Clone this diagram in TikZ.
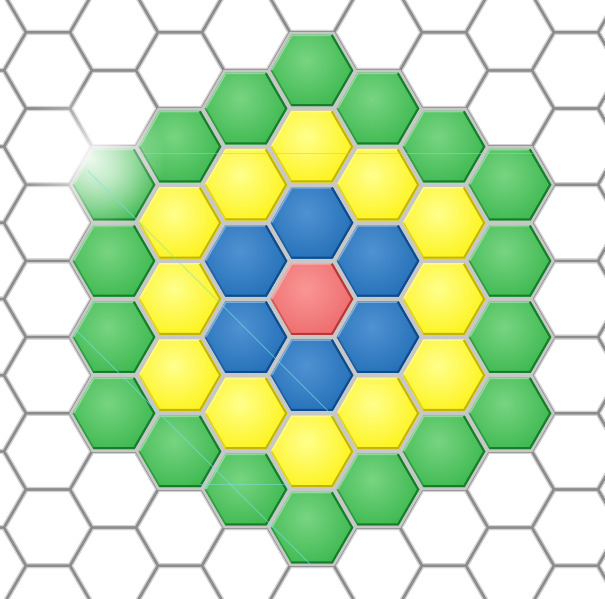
\documentclass[tikz,border=0pt]{standalone}
\usetikzlibrary{fadings}

% soft white glow used for the flare
\tikzfading[name=glow, inner color=transparent!0, outer color=transparent!100]

% flat-topped hexagon: centre (#1,#2), circumradius #3
\newcommand{\hexat}[3]{({#1+#3},{#2}) -- ({#1+0.5*#3},{#2+0.866025*#3}) -- ({#1-0.5*#3},{#2+0.866025*#3}) -- ({#1-#3},{#2}) -- ({#1-0.5*#3},{#2-0.866025*#3}) -- ({#1+0.5*#3},{#2-0.866025*#3}) -- cycle}

\definecolor{redbase}{RGB}{234,98,98}
\definecolor{redhi}{RGB}{250,150,150}
\definecolor{reddark}{RGB}{185,55,55}
\definecolor{bluebase}{RGB}{26,104,178}
\definecolor{bluehi}{RGB}{80,146,210}
\definecolor{bluedark}{RGB}{14,76,140}
\definecolor{yelbase}{RGB}{252,240,0}
\definecolor{yelhi}{RGB}{255,255,140}
\definecolor{yeldark}{RGB}{195,180,0}
\definecolor{grnbase}{RGB}{48,178,68}
\definecolor{grnhi}{RGB}{120,212,130}
\definecolor{grndark}{RGB}{22,125,42}
\definecolor{flare}{RGB}{120,225,225}

\tikzset{
  gridwide/.style={draw=black!18, line width=5pt, line join=round},
  gridcore/.style={draw=black!45, line width=2.2pt, line join=round},
  separator/.style={fill=black!22},
  flareline/.style={draw=flare, line width=1pt, opacity=0.6},
}

\begin{document}
\begin{tikzpicture}[x=1pt, y=-1pt]
\useasboundingbox (0,0) rectangle (605,599);
\clip (0,0) rectangle (605,599);
\fill[white] (0,0) rectangle (605,599);

% cell outlines of the whole grid
\foreach \k in {-5,...,5} {
  \foreach \j in {-5,...,5} {
    \pgfmathsetmacro\cx{312+66*\k}
    \pgfmathsetmacro\cy{299+76.2*\j+38.1*abs(mod(\k,2))}
    \path[gridwide] \hexat{\cx}{\cy}{44};
  }
}
\foreach \k in {-5,...,5} {
  \foreach \j in {-5,...,5} {
    \pgfmathsetmacro\cx{312+66*\k}
    \pgfmathsetmacro\cy{299+76.2*\j+38.1*abs(mod(\k,2))}
    \path[gridcore] \hexat{\cx}{\cy}{44};
  }
}

% coloured rings around the centre cell
\foreach \k in {-3,...,3} {
  \foreach \j in {-4,...,4} {
    \pgfmathsetmacro\cx{312+66*\k}
    \pgfmathsetmacro\cy{299+76.2*\j+38.1*abs(mod(\k,2))}
    \pgfmathtruncatemacro\r{round((\cy-299)/76.2-\k/2)}
    \pgfmathtruncatemacro\d{max(abs(\k),abs(\r),abs(\k+\r))}
    \ifnum\d<4
      \ifcase\d
        \def\cb{redbase}\def\ch{redhi}\def\cd{reddark}%
      \or
        \def\cb{bluebase}\def\ch{bluehi}\def\cd{bluedark}%
      \or
        \def\cb{yelbase}\def\ch{yelhi}\def\cd{yeldark}%
      \or
        \def\cb{grnbase}\def\ch{grnhi}\def\cd{grndark}%
      \fi
      \path[separator] \hexat{\cx}{\cy}{44.6};
      \begin{scope}
        \clip \hexat{\cx}{\cy}{41.3};
        \fill[\cb] (\cx-50,\cy-50) rectangle (\cx+50,\cy+50);
        \shade[inner color=\ch, outer color=\cb] (\cx-6,\cy-10) circle (62);
        % bevel: light upper rim, dark lower rim
        \draw[white, opacity=0.35, line width=3pt]
          ({\cx-41.3},{\cy}) -- ({\cx-20.65},{\cy-35.77}) -- ({\cx+20.65},{\cy-35.77});
        \draw[\cd, line width=4pt, line join=round]
          ({\cx+20.65},{\cy-35.77}) -- ({\cx+41.3},{\cy}) -- ({\cx+20.65},{\cy+35.77}) -- ({\cx-20.65},{\cy+35.77});
        \draw[\cd, opacity=0.5, line width=3pt]
          ({\cx-20.65},{\cy+35.77}) -- ({\cx-41.3},{\cy});
      \end{scope}
    \fi
  }
}

% lens flare: glow and thin streaks
\fill[white, path fading=glow, opacity=0.9] (90,158) circle (75);
\coordinate (s1a) at (88,171);
\coordinate (s1b) at (335,418);
\coordinate (s2a) at (75,329);
\coordinate (s2b) at (312,566);
\coordinate (h1a) at (140,154);
\coordinate (h1b) at (533,154);
\coordinate (h2a) at (200,484);
\coordinate (h2b) at (290,484);
\path[flareline] (s1a) -- (s1b);
\path[flareline] (s2a) -- (s2b);
\path[flareline, opacity=0.5] (h1a) -- (h1b);
\path[flareline, opacity=0.5] (h2a) -- (h2b);
\end{tikzpicture}
\end{document}
